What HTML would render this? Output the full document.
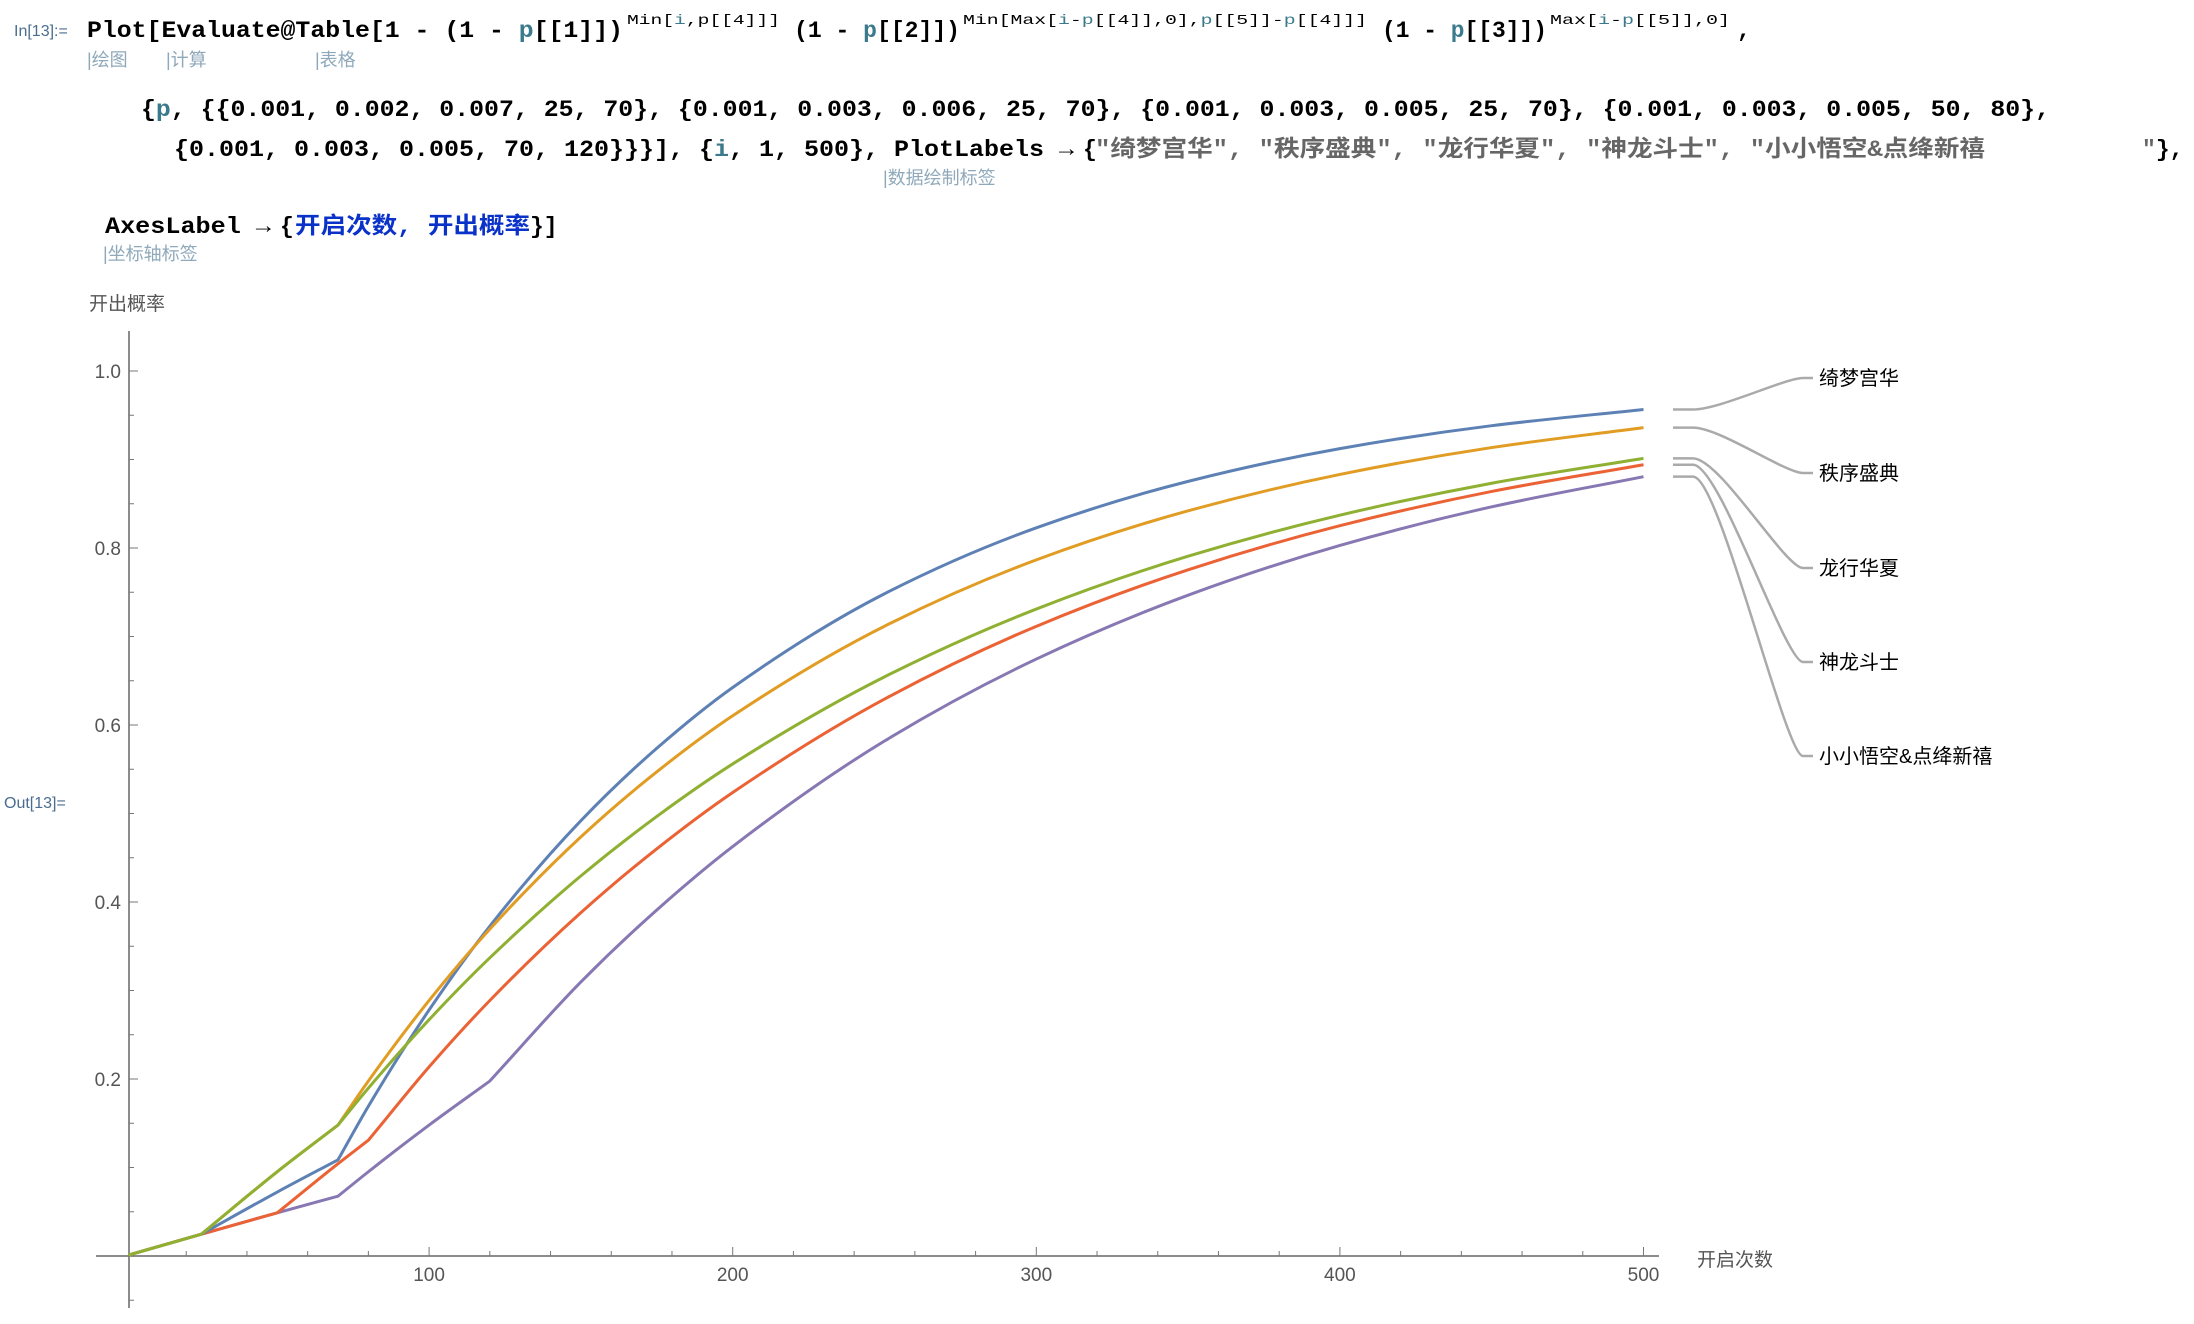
<!DOCTYPE html>
<html><head><meta charset="utf-8">
<style>
html,body{margin:0;padding:0;background:#fff;}
svg{display:block;}
.code{font-family:"Liberation Mono","Noto Sans CJK SC",monospace;font-weight:bold;font-size:23px;fill:#000;}
.sup{font-family:"Liberation Mono",monospace;font-size:14px;fill:#000;}
.ann{font-family:"Liberation Sans","Noto Sans CJK SC",sans-serif;font-size:18px;fill:#8fa9bb;}
.tick{font-family:"Liberation Sans",sans-serif;font-size:19px;fill:#555;}
.lab{font-family:"Liberation Sans","Noto Sans CJK SC",sans-serif;font-size:19px;fill:#555;}
.leg{font-family:"Liberation Sans","Noto Sans CJK SC",sans-serif;font-size:20px;fill:#000;}
</style></head>
<body>
<svg id="root" width="2194" height="1324" viewBox="0 0 2194 1324" xmlns="http://www.w3.org/2000/svg">
<g>
<text x="14" y="36" font-family="Liberation Sans, sans-serif" font-size="16" fill="#4a6d8f">In[13]:=</text>
<text class="code" x="87" y="37" textLength="536" lengthAdjust="spacingAndGlyphs">Plot[Evaluate@Table[1 - (1 - <tspan fill="#3b7a8c">p</tspan>[[1]])</text>
<text class="sup" x="627" y="24" textLength="153" lengthAdjust="spacingAndGlyphs">Min[<tspan fill="#3b7a8c">i</tspan>,p[[4]]]</text>
<text class="code" x="794" y="37" textLength="166" lengthAdjust="spacingAndGlyphs">(1 - <tspan fill="#3b7a8c">p</tspan>[[2]])</text>
<text class="sup" x="963" y="24" textLength="404" lengthAdjust="spacingAndGlyphs">Min[Max[<tspan fill="#3b7a8c">i</tspan>-<tspan fill="#3b7a8c">p</tspan>[[4]],0],<tspan fill="#3b7a8c">p</tspan>[[5]]-<tspan fill="#3b7a8c">p</tspan>[[4]]]</text>
<text class="code" x="1382" y="37" textLength="165" lengthAdjust="spacingAndGlyphs">(1 - <tspan fill="#3b7a8c">p</tspan>[[3]])</text>
<text class="sup" x="1550" y="24" textLength="180" lengthAdjust="spacingAndGlyphs">Max[<tspan fill="#3b7a8c">i</tspan>-<tspan fill="#3b7a8c">p</tspan>[[5]],0]</text>
<text class="code" x="1737" y="37">,</text>
<text class="ann" x="87" y="66">|绘图</text>
<text class="ann" x="166" y="66">|计算</text>
<text class="ann" x="315" y="66">|表格</text>
<text class="code" x="141" y="116" textLength="1909" lengthAdjust="spacingAndGlyphs">{<tspan fill="#3b7a8c">p</tspan>, {{0.001, 0.002, 0.007, 25, 70}, {0.001, 0.003, 0.006, 25, 70}, {0.001, 0.003, 0.005, 25, 70}, {0.001, 0.003, 0.005, 50, 80},</text>
<text class="code" x="174" y="156" textLength="900" lengthAdjust="spacingAndGlyphs">{0.001, 0.003, 0.005, 70, 120}}}], {<tspan fill="#3b7a8c">i</tspan>, 1, 500}, PlotLabels →</text>
<text class="code" x="1083" y="156">{</text>
<text class="code" x="1095" y="156" textLength="890" lengthAdjust="spacingAndGlyphs" style="fill:#666">"绮梦宫华", "秩序盛典", "龙行华夏", "神龙斗士", "小小悟空&amp;点绛新禧</text>
<text class="code" x="2142" y="156"><tspan fill="#666">"</tspan>},</text>
<text class="ann" x="883" y="184">|数据绘制标签</text>
<text class="code" x="105" y="233" textLength="166" lengthAdjust="spacingAndGlyphs">AxesLabel →</text>
<text class="code" x="280" y="233">{</text>
<text class="code" x="295" y="233" textLength="235" lengthAdjust="spacingAndGlyphs" style="fill:#0a32c8">开启次数, 开出概率</text>
<text class="code" x="530" y="233">}]</text>
<text class="ann" x="103" y="260">|坐标轴标签</text>
</g>
<text x="4" y="808" font-family="Liberation Sans, sans-serif" font-size="16" fill="#4a6d8f">Out[13]=</text>
<g id="chart"></g>
</svg>
<script>
const xs = [1,25,50,70,80,100,120,150,175,200,250,300,350,400,450,500];
const s1 = [0.001,0.0247,0.0723,0.1087,0.1692,0.2780,0.3727,0.4919,0.5737,0.6424,0.7483,0.8228,0.8753,0.9123,0.9382,0.9565];
const s2 = [0.001,0.0247,0.0953,0.1480,0.1978,0.2888,0.3694,0.4736,0.5471,0.6104,0.7116,0.7866,0.8420,0.8831,0.9135,0.9360];
const s3 = [0.001,0.0247,0.0953,0.1480,0.1897,0.2670,0.3369,0.4295,0.4967,0.5560,0.6544,0.7310,0.7907,0.8371,0.8732,0.9013];
const s4 = [0.001,0.0247,0.0488,0.1043,0.1308,0.2137,0.2887,0.3880,0.4601,0.5237,0.6293,0.7115,0.7754,0.8252,0.8639,0.8941];
const s5 = [0.001,0.0247,0.0488,0.0676,0.0952,0.1480,0.1977,0.3097,0.3910,0.4627,0.5819,0.6745,0.7467,0.8029,0.8465,0.8806];
const kinks1 = [25,70], kinks2 = [25,70], kinks3 = [25,70], kinks4 = [50,80], kinks5 = [70,120];
const seriesNames = ["绮梦宫华","秩序盛典","龙行华夏","神龙斗士","小小悟空&点绛新禧"];
const xTicks = [100,200,300,400,500];
const yTicks = [0.2,0.4,0.6,0.8,1.0];
const yTickLabels = ["0.2","0.4","0.6","0.8","1.0"];

const NS = "http://www.w3.org/2000/svg";
const g = document.getElementById("chart");
const X = v => 125.5 + v * 3.036;
const Y = v => 1256 - v * 885;
function mk(tag, attrs, parent) {
  const e = document.createElementNS(NS, tag);
  for (const k in attrs) e.setAttribute(k, attrs[k]);
  (parent || g).appendChild(e);
  return e;
}
const xa = mk("line", {x1:96, y1:Y(0), x2:1659, y2:Y(0), stroke:"#666", "stroke-width":1.5});


const ya = mk("line", {x1:129, y1:331, x2:129, y2:1308, stroke:"#666", "stroke-width":1.5});


for (let v = 20; v <= 500; v += 20) {
  const major = v % 100 === 0;
  const t = mk("line", {x1:X(v), y1:Y(0), x2:X(v), y2:Y(0) - (major ? 9 : 5), stroke:"#777", "stroke-width":1});
  
  
}
xTicks.forEach(v => {
  const t = mk("text", {x:X(v), y:Y(0)+25, "text-anchor":"middle", class:"tick"});
  t.textContent = v;
  
  
});
for (let k = -1; k <= 20; k++) {
  const v = k * 0.05;
  if (k === 0) continue;
  const major = k % 4 === 0;
  const t = mk("line", {x1:129, y1:Y(v), x2:129 + (major ? 9 : 5), y2:Y(v), stroke:"#777", "stroke-width":1});
  
  
}
yTicks.forEach((v, i) => {
  const t = mk("text", {x:121, y:Y(v)+7, "text-anchor":"end", class:"tick"});
  t.textContent = yTickLabels[i];
  
  
});
const xl = mk("text", {x:1697, y:1266, class:"lab"});
xl.textContent = "开启次数";


const yl = mk("text", {x:89, y:310, class:"lab"});
yl.textContent = "开出概率";



function monoSeg(px, py, first) {
  const n = px.length;
  let s = first ? ("M" + px[0] + "," + py[0]) : "";
  if (n === 2) return s + " L" + px[1] + "," + py[1];
  const d = [], m = [];
  for (let i = 0; i < n-1; i++) d.push((py[i+1]-py[i])/(px[i+1]-px[i]));
  m[0] = d[0]; m[n-1] = d[n-2];
  for (let i = 1; i < n-1; i++) {
    if (d[i-1]*d[i] <= 0) m[i] = 0;
    else {
      const h0 = px[i]-px[i-1], h1 = px[i+1]-px[i];
      const w1 = 2*h1+h0, w2 = h1+2*h0;
      m[i] = (w1+w2)/(w1/d[i-1]+w2/d[i]);
    }
  }
  for (let i = 0; i < n-1; i++) {
    const h = (px[i+1]-px[i])/3;
    s += " C" + (px[i]+h) + "," + (py[i]+m[i]*h) + " " + (px[i+1]-h) + "," + (py[i+1]-m[i+1]*h) + " " + px[i+1] + "," + py[i+1];
  }
  return s;
}
function piecewisePath(vals, kinks) {
  const cuts = [xs[0]].concat(kinks, [xs[xs.length-1]]);
  let s = "";
  for (let c = 0; c < cuts.length-1; c++) {
    const idx = [];
    xs.forEach((x, i) => { if (x >= cuts[c] && x <= cuts[c+1]) idx.push(i); });
    s += monoSeg(idx.map(i => X(xs[i])), idx.map(i => Y(vals[i])), c === 0);
  }
  return s;
}
const series = [s1, s2, s3, s4, s5];
const kinks = [kinks1, kinks2, kinks3, kinks4, kinks5];
const colors = ["#5e81b5","#e19c24","#8fb032","#eb6235","#8778b3"];
const labelY = [378, 473, 568, 662, 756];
[4,3,0,1,2].forEach(k => {
  const p = mk("path", {d: piecewisePath(series[k], kinks[k]), fill:"none", stroke:colors[k], "stroke-width":3, "stroke-linejoin":"round"});
  
  
});
series.forEach((vals, k) => {
  const y0 = Y(vals[vals.length-1]);
  const y1 = labelY[k];
  const l = mk("path", {d:"M1673," + y0 + " L1693," + y0 + " C1720," + y0 + " 1785," + y1 + " 1803," + y1 + " L1813," + y1, fill:"none", stroke:"#aaa", "stroke-width":2.5});
  
  
  const t = mk("text", {x:1819, y:y1+7, class:"leg"});
  t.textContent = seriesNames[k];
  
  
});
</script>
</body></html>
